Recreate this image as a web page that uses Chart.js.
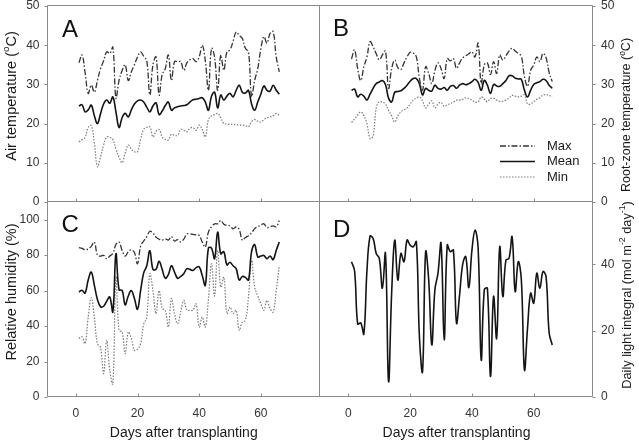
<!DOCTYPE html>
<html><head><meta charset="utf-8">
<script src="https://cdn.jsdelivr.net/npm/chart.js@4.4.1/dist/chart.umd.min.js"></script>
<style>
html,body{margin:0;padding:0;background:#fff;overflow:hidden}
#wrap{position:relative;width:639px;height:440px;background:#fff}
canvas{position:absolute;left:0;top:0}
</style></head><body><div id="wrap">
<canvas id="cA" width="639" height="440"></canvas>
<canvas id="cB" width="639" height="440"></canvas>
<canvas id="cC" width="639" height="440"></canvas>
<canvas id="cD" width="639" height="440"></canvas>
</div>
<script>
// ---------------- data ----------------
const days = [1,2,3,4,5,6,7,8,9,10,11,12,13,14,15,16,17,18,19,20,21,22,23,24,25,26,27,28,29,30,31,32,33,34,35,36,37,38,39,40,41,42,43,44,45,46,47,48,49,50,51,52,53,54,55,56,57,58,59,60,61,62,63,64,65,66];

const airMax  = [35.5,37.5,33,27.7,29.8,28,31,34,36,38.3,37.9,39.5,26.5,31,33.5,35,31,33.2,35,37,38.3,37.2,36,27.3,35,37,27.3,32.5,34,37.5,31,35.8,35.8,35.8,33.6,35.5,36.3,36.6,35.8,37,40,36,28.5,39.2,37,28.5,37.5,33.6,38.3,38.8,41,43.4,42.5,41.7,39.2,38.3,27,31,34,39,42.2,40.5,43,43.5,37,33.2];
const airMean = [24.5,24.8,23,23.5,24.7,22,20,22.5,25,26,25.2,26.8,23,19,21.5,22.6,21.7,23.5,25,25.8,26,25.5,24.2,23,24.5,25.3,22.3,23.2,24.6,25.5,23.4,24,24.3,24.5,24.6,24.8,25.5,26.1,26.2,26.4,26.6,25.5,23.4,27,28,24,27.3,26,27,27.7,26.8,28.5,29.8,28,27.8,28.5,25,23.4,25.5,27.5,29.6,28.5,28.3,29.8,28.5,27.5];
const airMin  = [15.3,15.9,16.5,19,19.5,15,9,11.5,14.5,16.6,16.5,16,13.5,11.5,10,12.5,14.5,13.5,12.8,12.8,16,18.5,19,19.2,16.6,18,18.5,16.6,16,15.8,17.3,17,17,18.5,18.3,17.9,18.8,19,18.3,19.6,18.5,16.6,21,22,22.3,22.6,21.5,20,19.9,19.8,19.8,19.7,19.6,19.6,19.5,19.2,20.5,21,20.6,20.4,21,21.5,21.7,22,22.6,22.1];

const rootMax  = [36.5,38.8,34,31,34.5,37,40.9,39.6,37.8,36.3,37.5,38.5,29,34,36.2,34.3,33.8,35.5,37,38.2,38,37,31.5,28.5,34.5,32.8,30.2,33.5,35.5,34,31.5,36.6,36,36.6,34.1,35.5,36.7,37.3,37.8,38.3,37,40.5,30.2,35,35.5,32.5,35.8,32.8,37.5,36.2,37.3,38.5,39.2,38.5,37.9,37.2,32,29.5,33.6,34.9,37,35.8,37.9,36.8,33,30.7];
const rootMean = [28.5,28.8,26.8,27.5,27,26,27.5,29,30.2,30.6,31,30,26.5,25.5,28,28.2,28.4,29,29.8,30.8,31.5,31.5,30.2,27.3,29,28.5,28.3,29.8,29,28.8,29.2,28.5,29.5,29.7,29,29.8,30.2,29.9,30.2,30.7,31.3,30.5,28.5,31,29.8,27.7,30,29.6,29.5,30.2,31,32.2,32.2,31.6,31.4,31.3,28.5,26.8,28.5,30,30.4,30.7,31.3,31,29.8,29];
const rootMin  = [20.3,21.2,22.2,23,22,20,16.2,16.8,24,25.6,25.5,25,23.4,22,20.4,22,23,23.5,24,25,26,26.5,26.8,25.8,24,25,25.8,24,25,25.4,24.4,24.8,25.1,25.5,26,26,26.2,26.6,26.4,26,25.5,25.5,26.8,26.2,25.6,26.4,26.5,26,25.7,25.7,26,26.5,27.2,27,26.8,27,27.3,25,25,25.6,26.2,26.6,27.3,27.4,27.2,26.8];

const rhMax  = [84.2,83.8,83,83.5,85,87.4,80,79.5,79.9,78,79.5,81,86,87.4,82.7,79.5,82,83,81.5,75.2,85,88,90.5,93.5,92.5,90.2,89,88.5,89.2,88.5,90.5,88,88.8,87.5,89,92,92,91.7,91.5,91.2,87.4,84.6,93,96,97.7,97.7,99.5,97.5,96.8,96.5,94.9,95.9,94.5,88.5,90,91,92.5,95,96,97,97.7,95.5,96,96.5,96,99.5];
const rhMean = [59.2,60.2,58.6,66,70.5,63,55,51,51.2,54,56.4,48,80.8,60.5,60.2,52,57,60,55.5,49.5,60,70,74,82.5,72,72,76.5,72,67,69,74,70.5,67,68,69.5,72.4,72,71.4,73,73.5,68.5,63,84,84,78,93,80.8,82,74.5,76,74,72.4,66,68,67.5,66,82,86,79,79.5,79.8,78,79.5,77.5,82.7,87.4];
const rhMin  = [33,34,30.1,45,56,45,30,28,13.2,32,15,7.5,67.7,37.6,36.7,24.4,36.7,33,26.3,27,30.1,41,45,69.5,60.2,47,60,50,48.9,39.5,55.5,47,41.4,48,54.5,49,48.9,48.9,52.6,39.5,45.1,39.5,55,75.2,57,82.7,62,67.7,47,50.8,47,48.9,37.6,42.3,43.2,56.4,77.1,62,57,52.6,48.9,54.5,50,47.9,60,74.2];

const dli = [40.8,38,22,22.3,19,38,48.5,47.8,43.3,41.8,32.8,43.3,4.7,31.3,47.3,35.3,43.3,40.8,47.3,45.8,45.3,46.8,18,7.7,43.8,35.3,15.7,32.3,37.3,46.3,17.2,45.8,43.8,44.3,22.3,30.8,40,42.3,33,44.3,50.3,45,11.2,32.3,32.8,6.2,30.3,17.7,45.3,30.3,41.3,41.8,48.3,31.8,40.8,35.3,8.2,20.8,31.3,28.3,37.3,32.8,37.8,36.3,19.3,15.7];

const xTickVals    = [0,20,40,60];
const tempTickVals = [0,10,20,30,40,50];
const rhTickVals   = [0,20,40,60,80,100];
const dliTickVals  = [0,20,40];
const seriesNames  = ['Max','Mean','Min'];

// ---------------- styling ----------------
const FONT = "'Liberation Sans', Arial, Helvetica, sans-serif";
Chart.defaults.font.family = FONT;
Chart.defaults.color = '#333';
const CW = 639, CH = 440;
const FRAME = '#8a8a8a';
const STY = {
  Max:  {borderColor:'#333', borderWidth:1.3, borderDash:[6,2,1.5,2]},
  Mean: {borderColor:'#141414', borderWidth:1.6, borderDash:[]},
  Min:  {borderColor:'#7a7a7a', borderWidth:1.2, borderDash:[1.5,1.5]}
};
const X_MIN = -9.2, X_MAX = 79.2;

function xy(vals){ return days.map((d,i)=>({x:d, y:vals[i]})); }

function richText(ctx, parts, cx, cy, rot, size, color){
  ctx.save();
  ctx.translate(cx, cy); ctx.rotate(rot);
  ctx.fillStyle = color; ctx.textBaseline = 'middle'; ctx.textAlign = 'left';
  const w = []; let total = 0;
  for (const p of parts){ ctx.font = (p[1] ? size*0.68 : size) + 'px ' + FONT; const m = ctx.measureText(p[0]).width; w.push(m); total += m; }
  let x = -total/2;
  parts.forEach((p,i)=>{ ctx.font = (p[1] ? size*0.68 : size) + 'px ' + FONT; ctx.fillText(p[0], x, p[1] ? -size*0.38 : 0); x += w[i]; });
  ctx.restore();
}

const decoPlugin = {
  id: 'deco',
  afterDraw(chart, args, o){
    const ctx = chart.ctx, a = chart.chartArea;
    const xs = chart.scales.x, ys = chart.scales.y;
    const L = Math.round(a.left)-0.5, R = Math.round(a.right)-0.5, T = Math.round(a.top)-0.5, B = Math.round(a.bottom)-0.5;
    ctx.save();
    ctx.strokeStyle = FRAME; ctx.lineWidth = 1; ctx.setLineDash([]);
    ctx.beginPath();
    ctx.moveTo(L, T); ctx.lineTo(R, T); ctx.lineTo(R, B); ctx.lineTo(L, B); ctx.closePath();
    for (const v of xTickVals){ const px = Math.round(xs.getPixelForValue(v))+0.5; ctx.moveTo(px, B); ctx.lineTo(px, B-3); }
    for (const t of ys.ticks){
      const py = Math.round(ys.getPixelForValue(t.value))+0.5;
      if (o.side === 'left'){ ctx.moveTo(L-3, py); ctx.lineTo(L, py); }
      else { ctx.moveTo(R, py); ctx.lineTo(R+3, py); }
    }
    ctx.stroke();
    ctx.fillStyle = '#111'; ctx.font = '24px ' + FONT; ctx.textAlign = 'left'; ctx.textBaseline = 'alphabetic';
    ctx.fillText(o.letter, o.lx, o.ly);
    richText(ctx, o.ytitle, o.ytx, o.yty, -Math.PI/2, o.ysize || 14, '#1a1a1a');
    if (o.xtitle) richText(ctx, [[o.xtitle]], (a.left+a.right)/2, 433, 0, 14, '#1a1a1a');
    if (o.legend){
      const rows = [146, 161.5, 177];
      seriesNames.forEach((n,i)=>{
        const s = STY[n];
        ctx.strokeStyle = s.borderColor; ctx.lineWidth = s.borderWidth; ctx.setLineDash(s.borderDash);
        ctx.beginPath(); ctx.moveTo(500, rows[i]); ctx.lineTo(535, rows[i]); ctx.stroke();
        ctx.setLineDash([]);
        ctx.fillStyle = '#1a1a1a'; ctx.font = '13px ' + FONT; ctx.textBaseline = 'middle';
        ctx.fillText(n, 547, rows[i]);
      });
    }
    ctx.restore();
  }
};

function zeroPad(s){ s.paddingLeft = 0; s.paddingRight = 0; s.paddingTop = 0; s.paddingBottom = 0; }

function panel(id, rect, side, yMax, yTickVals, showX, datasets, deco){
  const yW = side === 'left' ? rect.l : CW - rect.r;
  const xH = CH - rect.b;
  deco.side = side;
  return new Chart(document.getElementById(id), {
    type: 'line',
    data: { datasets },
    plugins: [decoPlugin],
    options: {
      responsive: false, animation: false, devicePixelRatio: 1,
      layout: { padding: { left: side==='left' ? 0 : rect.l, right: side==='left' ? CW-rect.r : 0, top: rect.t, bottom: 0 } },
      plugins: { legend:{display:false}, tooltip:{enabled:false}, deco },
      elements: { point:{radius:0}, line:{tension:0.4, fill:false} },
      scales: {
        x: { type:'linear', position:'bottom', min:X_MIN, max:X_MAX,
             grid:{display:false, drawTicks:false}, border:{display:false},
             ticks:{display:showX, padding:9, font:{size:12}, color:'#333', autoSkip:false, maxRotation:0},
             afterBuildTicks: s => { s.ticks = xTickVals.map(v=>({value:v})); },
             afterFit: s => { s.height = xH; zeroPad(s); } },
        y: { type:'linear', position:side, min:0, max:yMax,
             grid:{display:false, drawTicks:false}, border:{display:false},
             ticks:{padding:8, font:{size:12}, color:'#333', autoSkip:false},
             afterBuildTicks: s => { s.ticks = yTickVals.map(v=>({value:v})); },
             afterFit: s => { s.width = yW; zeroPad(s); } }
      }
    }
  });
}

function trio(mx, mn, mi){
  return [
    Object.assign({label:'Max',  data: xy(mx)}, STY.Max),
    Object.assign({label:'Mean', data: xy(mn)}, STY.Mean),
    Object.assign({label:'Min',  data: xy(mi)}, STY.Min)
  ];
}

panel('cA', {l:47.5, t:6, r:320, b:202}, 'left', 50, tempTickVals, false,
  trio(airMax, airMean, airMin),
  {letter:'A', lx:62, ly:37, ytitle:[['Air temperature ('],['o',1],['C)']], ytx:12, yty:96, ysize:14.5});

panel('cB', {l:320, t:6, r:593, b:202}, 'right', 50, tempTickVals, false,
  trio(rootMax, rootMean, rootMin),
  {letter:'B', lx:333, ly:36, ytitle:[['Root-zone temperature ('],['o',1],['C)']], ytx:627, yty:115, ysize:12.5, legend:true});

panel('cC', {l:47.5, t:202, r:320, b:397}, 'left', 110, rhTickVals, true,
  trio(rhMax, rhMean, rhMin),
  {letter:'C', lx:61.5, ly:232, ytitle:[['Relative humidity (%)']], ytx:12, yty:292, ysize:14.5, xtitle:'Days after transplanting'});

panel('cD', {l:320, t:202, r:593, b:397}, 'right', 58.8, dliTickVals, true,
  [Object.assign({label:'DLI', data: xy(dli)}, STY.Mean)],
  {letter:'D', lx:333, ly:237, ytitle:[['Daily light integral (mol m'],['-2',1],[' day'],['-1',1],[')']], ytx:627, yty:295, ysize:12.8, xtitle:'Days after transplanting'});
</script>
</body></html>
